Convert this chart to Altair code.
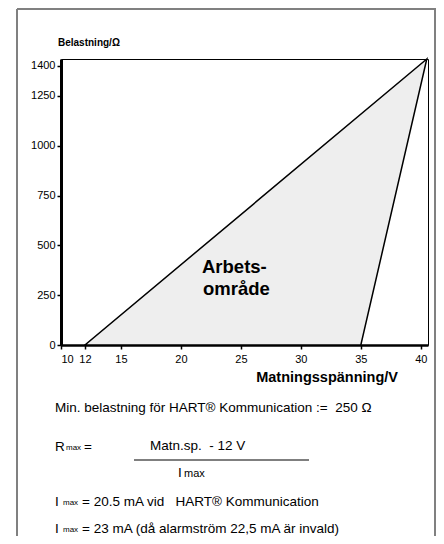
import altair as alt
import pandas as pd

# Working-area polygon: at each load the voltage range (left and right bound)
load_ohm = [0, 1435]
volt_left = [12, 40.5]
volt_right = [35, 40.5]

x_ticks = [10, 12, 15, 20, 25, 30, 35, 40]
y_ticks = [0, 250, 500, 750, 1000, 1250, 1400]

FONT = "Liberation Sans"
W, H = 367, 286
OX, OY = 61, 59  # page position of plot origin
NB = "\u00a0"


def txt(s, px, py, size=13, bold=False, align="left", color="black"):
    return alt.Chart(pd.DataFrame({"t": [s]})).mark_text(
        font=FONT, fontSize=size, fontWeight="bold" if bold else "normal",
        align=align, baseline="middle", color=color
    ).encode(text="t:N", x=alt.value(px - OX), y=alt.value(py - OY))


def rule(x1, y1, x2, y2, color="black", width=1.0):
    return alt.Chart(pd.DataFrame({"a": [0]})).mark_rule(
        color=color, strokeWidth=width
    ).encode(x=alt.value(x1 - OX), x2=alt.value(x2 - OX),
             y=alt.value(y1 - OY), y2=alt.value(y2 - OY))


df = pd.DataFrame({"load": load_ohm, "vl": volt_left, "vr": volt_right})

area = alt.Chart(df).mark_area(
    orient="horizontal", fill="#eeeeee", stroke="black", strokeWidth=1.5
).encode(
    y=alt.Y("load:Q", scale=alt.Scale(domain=[0, 1435], nice=False, zero=False),
            axis=alt.Axis(values=y_ticks, format="d", title=None, grid=False,
                          domainWidth=3, domainColor="black", tickColor="black",
                          tickSize=4, tickWidth=1.5, labelFont=FONT,
                          labelFontSize=11, labelColor="black", labelPadding=2)),
    x=alt.X("vl:Q", scale=alt.Scale(domain=[10, 40.6], nice=False, zero=False),
            axis=alt.Axis(values=x_ticks, format="d", title=None, grid=False,
                          domainWidth=2.5, domainColor="black", tickColor="black",
                          tickSize=4, tickWidth=1.5, labelFont=FONT,
                          labelFontSize=11, labelColor="black", labelPadding=4)),
    x2="vr:Q",
)

layers = [
    area,
    # outer frame
    rule(17, 9, 17, 537, color="#808080", width=2),
    rule(17, 9, 436, 9, color="#808080", width=2),
    rule(435, 9, 435, 537, color="#808080", width=2),
    txt("Belastning/Ω", 58, 43, size=10, bold=True),
    txt("Matningsspänning/V", 398, 378, size=14.5, bold=True, align="right"),
    txt("Arbets-", 202, 267, size=18.5, bold=True),
    txt("område", 203, 289, size=18.5, bold=True),
    txt(f"Min. belastning för HART® Kommunication :={NB} 250 Ω", 55, 408, size=13.5),
    txt("R", 55, 447, size=13.5),
    txt("max", 66, 448, size=8),
    txt("=", 84, 447, size=13.5),
    txt(f"Matn.sp.{NB} - 12 V", 150, 446, size=13.5),
    rule(134, 460, 309, 460, width=1.2),
    txt("I", 178, 473, size=13.5),
    txt("max", 184, 474, size=11),
    txt("I", 55, 502, size=13.5),
    txt("max", 63, 503, size=8),
    txt(f"= 20.5 mA vid{NB}{NB} HART® Kommunication", 82, 502, size=13.5),
    txt("I", 55, 529, size=13.5),
    txt("max", 63, 530, size=8),
    txt("= 23 mA (då alarmström 22,5 mA är invald)", 82, 529, size=13.5),
]

chart = alt.layer(*layers).properties(
    width=W, height=H,
    autosize=alt.AutoSizeParams(type="none"),
    padding={"left": 53, "top": 51, "right": 8, "bottom": 191},
    background="white",
).configure_view(stroke="black", strokeWidth=1)

chart.save("out.html", embed_options={"renderer": "svg", "actions": False})
